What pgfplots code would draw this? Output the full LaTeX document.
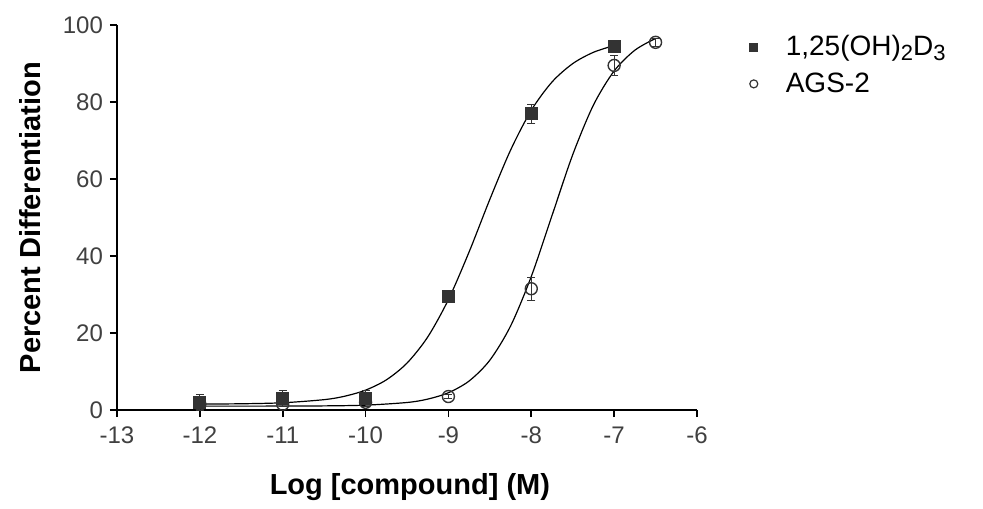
\documentclass[border=0pt]{standalone}
\usepackage{fontspec}
\setmainfont{Liberation Sans}
\usepackage{pgfplots}
\pgfplotsset{compat=1.18}
\definecolor{mk}{HTML}{333333}
\newcommand{\sub}[1]{\raisebox{-0.35ex}{\fontsize{11}{12}\selectfont #1}}
\begin{document}
\begin{tikzpicture}
\begin{axis}[
  at={(0,0)}, anchor=south west,
  scale only axis, width=290pt, height=192.5pt,
  xmin=-13, xmax=-6, ymin=0, ymax=100,
  axis x line=bottom, axis y line=left,
  axis line style={line width=1pt, -},
  xtick={-13,-12,...,-6}, ytick={0,20,...,100},
  tick style={line width=0.8pt, black},
  tick align=outside, major tick length=3.5pt,
  /pgf/number format/assume math mode=true,
  tick label style={font=\fontsize{12}{14}\selectfont, text=black!75},
  xticklabel style={yshift=-1.5pt},
  xlabel={\textbf{Log [compound] (M)}},
  ylabel={\textbf{Percent Differentiation}},
  xlabel style={at={(axis description cs:0.505,-0.2)}, anchor=center, font=\fontsize{14.5}{16}\selectfont},
  ylabel style={at={(axis description cs:-0.15,0.5)}, anchor=center, rotate=0, font=\fontsize{14.5}{16}\selectfont},
  clip=false,
  legend style={draw=none, at={(1.08,0.995)}, anchor=north west, font=\fontsize{14}{16}\selectfont, row sep=3pt, legend cell align=left, fill=none},
  legend image code/.code={\path[draw=none] (-2pt,0pt) -- (14pt,0pt); \draw[#1] plot coordinates {(0pt,0pt)};},
]
\addlegendimage{only marks, mark=square*, mark size=2pt, mark options={fill=mk, draw=mk}}
\addlegendentry{1,25(OH)\sub{2}D\sub{3}}
\addlegendimage{only marks, mark=o, mark size=2pt, mark options={fill=white, draw=black!80, line width=0.6pt}}
\addlegendentry{AGS-2}
% AGS-2 fitted curve
\addplot[black, line width=0.6pt, smooth, forget plot] coordinates {
(-12,1.0) (-11,1.02) (-10.5,1.07) (-10,1.26) (-9.5,1.95) (-9.25,2.83) (-9,4.49)
(-8.75,7.54) (-8.5,12.94) (-8.25,21.81) (-8,34.68) (-7.75,50.5) (-7.5,66.31)
(-7.25,79.20) (-7,88.06) (-6.75,93.45) (-6.5,96.51)};
% 1,25(OH)2D3 fitted curve
\addplot[black, line width=0.6pt, smooth, forget plot] coordinates {
(-12,1.54) (-11.5,1.62) (-11,1.88) (-10.5,2.69) (-10.25,3.59) (-10,5.16)
(-9.75,7.82) (-9.5,12.18) (-9.25,18.96) (-9,28.69) (-8.75,41.08) (-8.5,54.72)
(-8.25,67.5) (-8,77.84) (-7.75,85.19) (-7.5,89.97) (-7.25,92.91) (-7,94.66)};
% AGS-2 data
\addplot[only marks, forget plot, mark=o, mark size=3pt, mark options={fill=white, draw=black!80, line width=0.7pt},
  error bars/.cd, y dir=both, y explicit, error bar style={black!80, line width=0.6pt}, error mark options={rotate=90, mark size=2pt}]
  table[x=x, y=y, y error=e] {
x y e
-12 1.5 0.5
-11 1.5 0.5
-10 2 0.5
-9 3.5 0.5
-8 31.5 3
-7 89.5 2.5
-6.5 95.5 1
};
% 1,25(OH)2D3 data
\addplot[only marks, forget plot, mark=square*, mark size=3pt, mark options={fill=mk, draw=mk},
  error bars/.cd, y dir=both, y explicit, error bar style={mk, line width=0.6pt}, error mark options={rotate=90, mark size=2pt}]
  table[x=x, y=y, y error=e] {
x y e
-12 2 2
-11 3 2
-10 3 2
-9 29.5 1.5
-8 77 2.5
-7 94.5 1
};
\end{axis}
\path[use as bounding box] (-58.5pt,-49pt) rectangle (433pt,205pt);
\end{tikzpicture}
\end{document}
